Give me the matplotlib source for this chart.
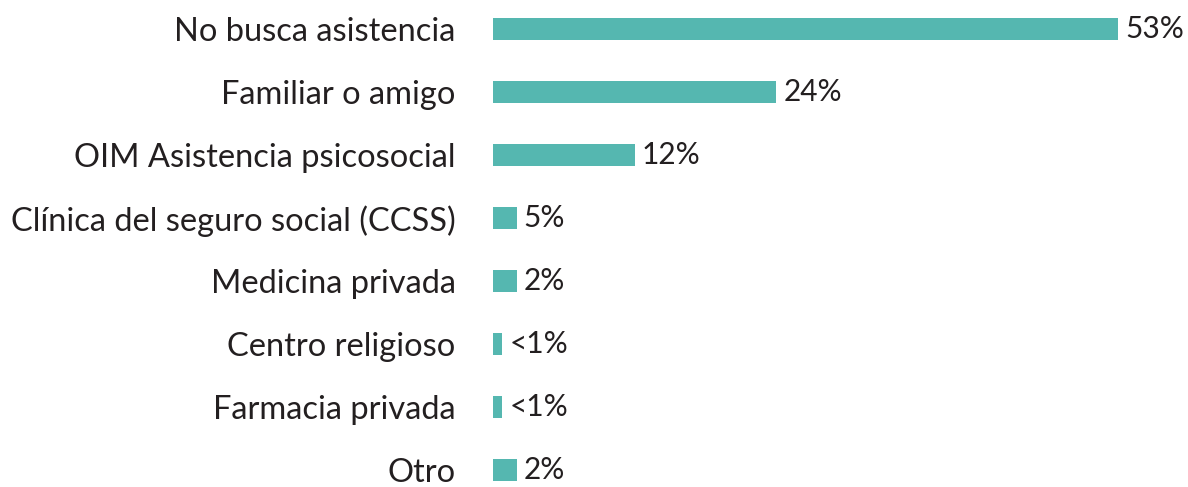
import matplotlib.pyplot as plt
import numpy as np

plt.rcParams['font.family'] = ['Lato', 'DejaVu Sans']

categorias = ['No busca asistencia', 'Familiar o amigo', 'OIM Asistencia psicosocial',
              'Clínica del seguro social (CCSS)', 'Medicina privada', 'Centro religioso',
              'Farmacia privada', 'Otro']
# longitud de barra tal como aparece en la figura
valores = [53, 24, 12, 2, 2, 0.8, 0.8, 2]
etiquetas = ['53%', '24%', '12%', '5%', '2%', '<1%', '<1%', '2%']

color_barra = '#55b7b0'
color_texto = '#231f20'

fig = plt.figure(figsize=(11.88, 4.87), dpi=100)
ax = fig.add_axes([493 / 1188, 0, 1 - 493 / 1188, 1])

y = np.arange(len(categorias))
ax.barh(y, valores, height=0.36, color=color_barra)

for i in range(len(categorias)):
    ax.text(valores[i] + 0.6, y[i], etiquetas[i], va='center', ha='left',
            fontsize=21.5, color=color_texto)

ax.set_xlim(0, (1188 - 493) / 11.8)
ax.set_ylim(7 + 17 / 63, -29 / 63)
ax.set_yticks(y)
ax.set_yticklabels(categorias, fontsize=23.5, color=color_texto)
ax.tick_params(axis='y', length=0, pad=27)
ax.set_xticks([])
for s in ax.spines.values():
    s.set_visible(False)

plt.savefig('out.png', dpi=100)
plt.close()
